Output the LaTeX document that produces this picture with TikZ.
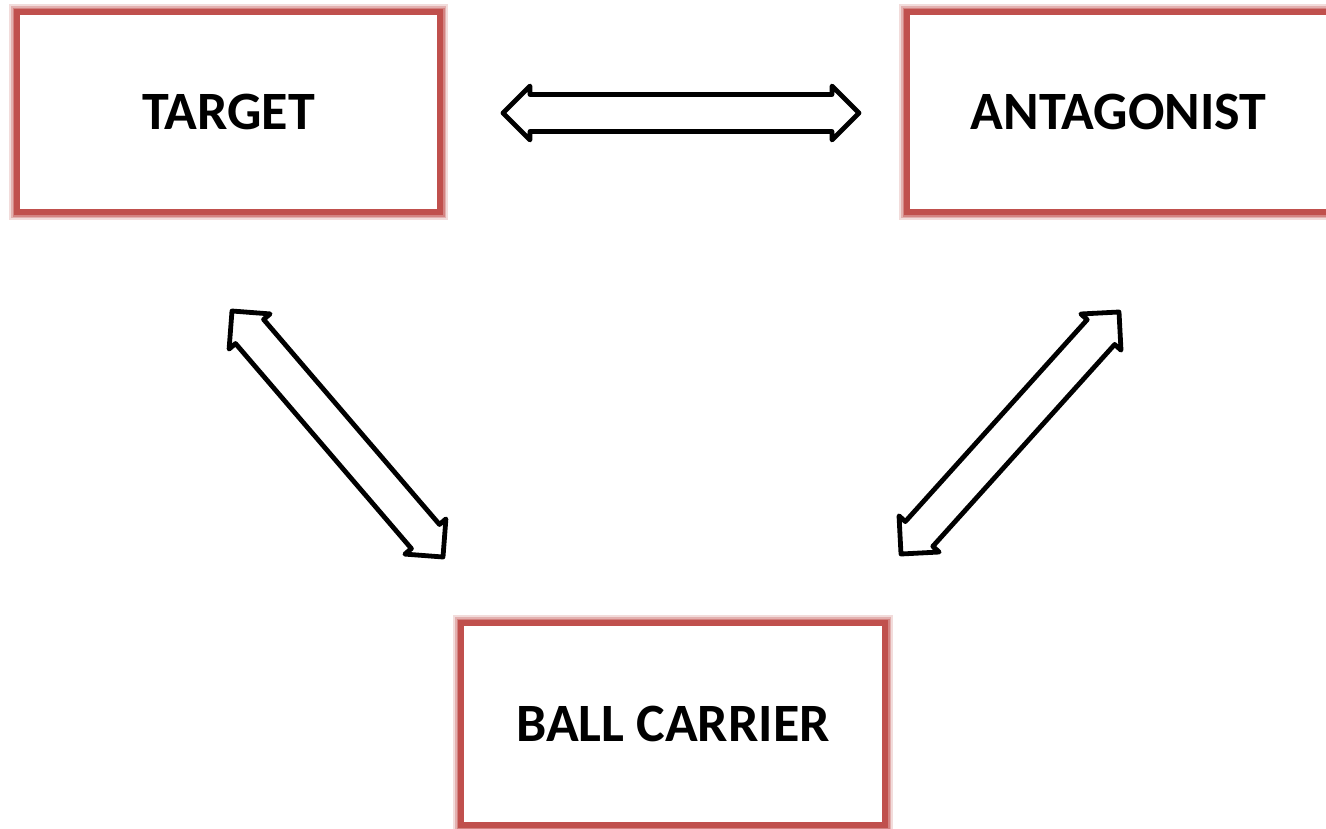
\documentclass[tikz,border=0pt]{standalone}
\usepackage{fontspec}
\setmainfont{Carlito}
\usetikzlibrary{calc}
\definecolor{boxred}{HTML}{C0504D}
\tikzset{
  redbox/.style={rectangle, draw=boxred, line width=6pt, fill=white,
    minimum width=423pt, minimum height=200pt, inner sep=0pt,
    font=\fontsize{54}{62}\selectfont\bfseries,
    preaction={draw=boxred!20, line width=16pt},
    preaction={draw=boxred!45, line width=12pt},
    preaction={draw=boxred!70, line width=9pt}},
  blockarrow/.style={draw=black, line width=4.8pt, line join=round, fill=white}
}
\newcommand\dblarrow[2]{%
  \draw[blockarrow]
    let \p1=($(#1)!27pt!(#2)$), \p2=($(#2)!27pt!(#1)$) in
    (#1) -- ($(\p1)!27pt!90:(#2)$) -- ($(\p1)!18.5pt!90:(#2)$)
    -- ($(\p2)!18.5pt!-90:(#1)$) -- ($(\p2)!27pt!-90:(#1)$)
    -- (#2) -- ($(\p2)!27pt!90:(#1)$) -- ($(\p2)!18.5pt!90:(#1)$)
    -- ($(\p1)!18.5pt!-90:(#2)$) -- ($(\p1)!27pt!-90:(#2)$) -- cycle;}
\begin{document}
\begin{tikzpicture}[x=1pt,y=-1pt]
\useasboundingbox (0,0) rectangle (1326,828);
\node[redbox] (target) at (228.5,112) {TARGET};
\node[redbox] (antag) at (1118.5,112) {ANTAGONIST};
\node[redbox, minimum width=424pt, minimum height=202pt] (ball) at (673,724) {BALL CARRIER};
\coordinate (h1) at (503,113);
\coordinate (h2) at (859,113);
\coordinate (l1) at (232,311);
\coordinate (l2) at (443,557);
\coordinate (r1) at (1119,312);
\coordinate (r2) at (901,554);
\dblarrow{h1}{h2}
\dblarrow{l1}{l2}
\dblarrow{r1}{r2}
\end{tikzpicture}
\end{document}
